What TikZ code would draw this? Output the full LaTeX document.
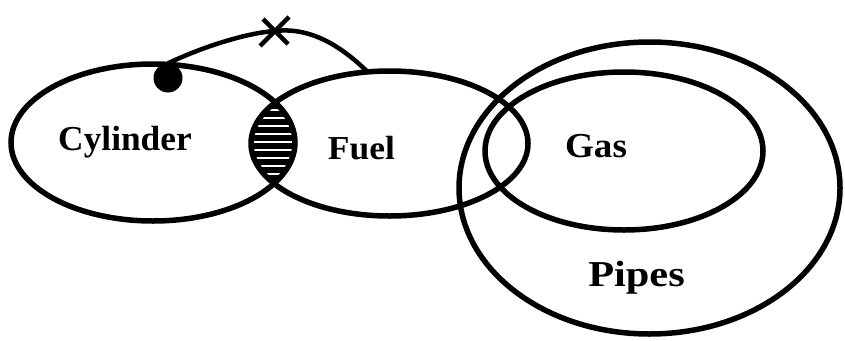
\documentclass[tikz,border=0pt]{standalone}
\usepackage{fontspec}
\usepackage{graphicx}
\setmainfont{Liberation Serif}
\usetikzlibrary{shapes.geometric}
\begin{document}
\begin{tikzpicture}[x=1pt,y=-1pt,
  setshape/.style={draw, line width=5.5pt, ellipse, inner sep=0pt, outer sep=0pt},
  lbl/.style={font=\bfseries, inner sep=0pt, anchor=base},
  link/.style={line width=4.5pt},
  hatchline/.style={white, line width=1.6pt}
]
\useasboundingbox (0,0) rectangle (845,340);
% shaded overlap of Cylinder and Fuel
\begin{scope}
  \clip (153,142.5) ellipse [x radius=142, y radius=78.5];
  \fill (389.5,143.5) ellipse [x radius=138.5, y radius=72.5];
  \foreach \yy in {110,118,...,182} \draw[hatchline] (240,\yy) -- (310,\yy);
\end{scope}
% sets
\node[setshape, minimum width=284pt, minimum height=157pt] (cyl) at (153,142.5) {};
\node[setshape, minimum width=277pt, minimum height=145pt] (fuel) at (389.5,143.5) {};
\node[setshape, minimum width=278pt, minimum height=158pt] (gas) at (624,151) {};
\node[setshape, minimum width=381pt, minimum height=292pt] (pipes) at (649.5,188) {};
% labels
\node[lbl] (tcyl) at (125,150) {\fontsize{35}{40}\selectfont\scalebox{1.01}[1]{Cylinder}};
\node[lbl] (tfuel) at (361.5,159) {\fontsize{33.5}{40}\selectfont\scalebox{1.06}[1]{Fuel}};
\node[lbl] (tgas) at (596,157) {\fontsize{35}{40}\selectfont\scalebox{1.06}[1]{Gas}};
\node[lbl] (tpipes) at (636.5,286) {\fontsize{36.5}{40}\selectfont\scalebox{1.16}[1]{Pipes}};
% dot, link and cross
\node[circle, fill, minimum size=29pt, inner sep=0pt] (dot) at (168,78) {};
\coordinate (xmark) at (275,31);
\draw[link] (dot.north) .. controls (200,48) and (245,33) .. (xmark)
  .. controls (310,27) and (340,45) .. (fuel.107);
\draw[line width=4.5pt] ([shift={(-12,-12)}]xmark) -- ([shift={(13,13)}]xmark);
\draw[line width=4.5pt] ([shift={(14,-14)}]xmark) -- ([shift={(-15,15)}]xmark);
\end{tikzpicture}
\end{document}
